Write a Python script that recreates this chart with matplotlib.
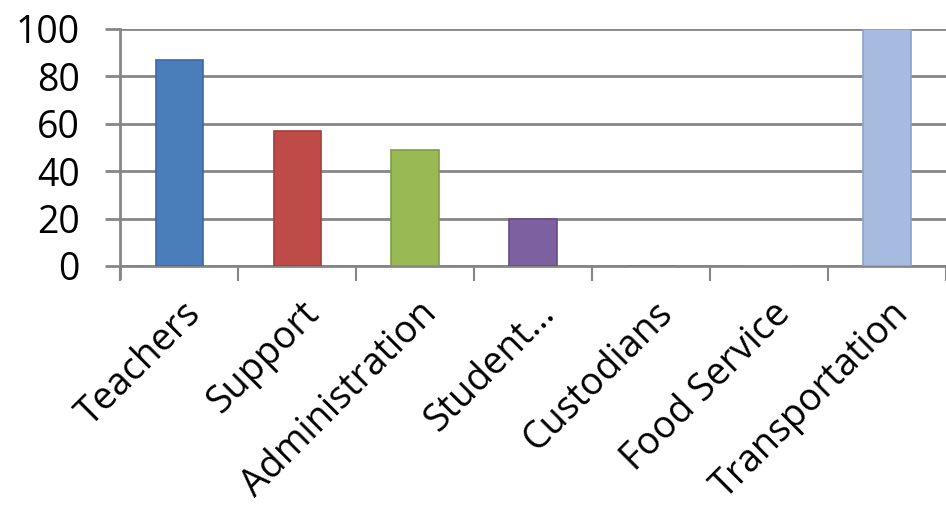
import matplotlib.pyplot as plt

categories = ["Teachers", "Support", "Administration", "Student…",
              "Custodians", "Food Service", "Transportation"]
values = [87, 57, 49, 20, 0, 0, 100]
colors = ["#4a7ebb", "#be4b48", "#98b954", "#7d60a0",
          "#4bacc6", "#f79646", "#a5bce0"]
edges = ["#3a6aa5", "#a43d3a", "#7f9d45", "#664d86",
         "#3a93ab", "#d47d38", "#8aa3cb"]
yticks = [0, 20, 40, 60, 80, 100]

plt.rcParams["font.family"] = ["Open Sans", "DejaVu Sans"]

fig = plt.figure(figsize=(9.46, 5.14), dpi=100)
ax = fig.add_axes([0.127, 0.4825, 0.873, 0.4615])

x = list(range(len(categories)))
ax.bar(x, values, width=0.4, color=colors, edgecolor=edges, linewidth=1.2, zorder=3)

ax.set_xlim(-0.5, len(categories) - 0.5)
ax.set_ylim(0, 100)
ax.set_yticks(yticks)
ax.set_yticklabels([str(v) for v in yticks], fontsize=27)
ax.yaxis.grid(True, color="#868686", linewidth=2, zorder=0)
ax.set_axisbelow(True)

for s in ["top", "right"]:
    ax.spines[s].set_visible(False)
ax.spines["left"].set_color("#868686")
ax.spines["left"].set_linewidth(2)
ax.spines["bottom"].set_color("#868686")
ax.spines["bottom"].set_linewidth(2)
ax.spines["left"].set_bounds(-5, 100)

# category boundary ticks
ax.set_xticks([i - 0.5 for i in range(len(categories) + 1)])
ax.set_xticklabels([""] * (len(categories) + 1))
ax.tick_params(axis="x", length=11, width=1.5, color="#868686", direction="out")
ax.tick_params(axis="y", length=11, width=2, color="#868686", pad=18)

for i, name in enumerate(categories):
    ax.text(i + 0.02, -12, name, rotation=45, ha="right", va="top",
            rotation_mode="anchor", fontsize=27)

fig.savefig("out.png", dpi=100)
